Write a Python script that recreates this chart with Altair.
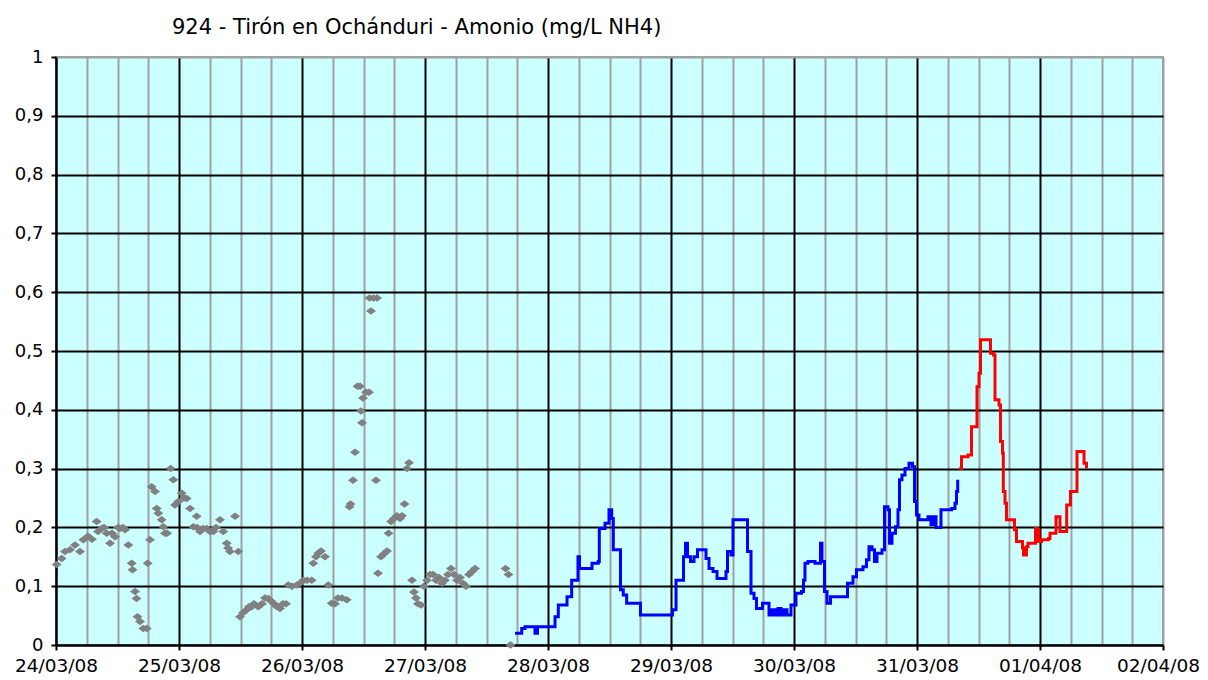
import altair as alt
import pandas as pd

# ---- data (hours since 24/03/08 00:00, values in mg/L NH4) ----
day_labels = ["24/03/08", "25/03/08", "26/03/08", "27/03/08", "28/03/08",
              "29/03/08", "30/03/08", "31/03/08", "01/04/08", "02/04/08"]
y_ticks = [0, 0.1, 0.2, 0.3, 0.4, 0.5, 0.6, 0.7, 0.8, 0.9, 1.0]
grid_hours = list(range(0, 217, 6))

gray_hours = [0.14, 1.11, 1.76, 2.73, 3.71, 4.68, 5.33, 6.24, 7.02, 7.94, 8.20, 8.92, 9.37,
              9.89, 10.54, 10.93, 11.51, 12.10, 12.49, 13.07, 13.46, 14.11, 14.77, 14.93,
              15.41, 15.71, 15.90, 16.39, 17.03, 17.70, 17.89, 18.34, 18.67, 19.32, 19.65,
              19.96, 20.62, 20.94, 21.27, 21.66, 22.38, 22.89, 23.22, 23.86, 24.53, 24.98,
              25.50, 26.15, 26.79, 27.45, 27.51, 28.10, 28.68, 29.40, 30.05, 30.69, 31.22,
              32.00, 32.64, 33.31, 33.56, 33.95, 34.93, 35.57, 35.90, 36.49, 37.21, 37.66,
              38.19, 38.63, 39.47, 40.20, 40.78, 41.42, 41.95, 42.54, 43.12, 43.71, 44.29,
              44.88, 45.33, 46.05, 46.97, 47.61, 48.25, 48.98, 49.89, 50.20, 50.73, 51.18,
              51.71, 52.49, 53.13, 53.79, 54.44, 55.02, 55.80, 56.72, 57.27, 57.46, 57.95,
              58.34, 58.83, 59.32, 59.51, 59.71, 59.90, 60.49, 61.07, 61.17, 61.46, 61.95,
              62.63, 62.44, 62.83, 63.41, 64.00, 64.59, 64.88, 65.37, 65.95, 66.53, 67.12,
              67.51, 68.00, 68.49, 68.88, 69.46, 69.85, 70.24, 70.63, 71.22, 71.80, 72.39,
              72.98, 73.56, 74.15, 74.73, 75.32, 75.90, 76.49, 77.07, 77.66, 78.24, 78.83,
              79.41, 80.00, 80.59, 81.17, 81.76, 87.71, 88.29, 88.68]
gray_values = [0.137, 0.147, 0.159, 0.162, 0.170, 0.159, 0.179, 0.185, 0.180, 0.210, 0.193, 0.198, 0.200,
               0.190, 0.173, 0.190, 0.184, 0.200, 0.198, 0.200, 0.196, 0.170, 0.139, 0.128,
               0.091, 0.079, 0.048, 0.040, 0.028, 0.028, 0.139, 0.179, 0.269, 0.261, 0.232,
               0.224, 0.213, 0.201, 0.190, 0.190, 0.300, 0.281, 0.238, 0.244, 0.258, 0.250,
               0.249, 0.232, 0.201, 0.219, 0.200, 0.193, 0.198, 0.198, 0.193, 0.193, 0.200,
               0.213, 0.193, 0.173, 0.165, 0.159, 0.219, 0.159, 0.048, 0.055, 0.060, 0.065,
               0.065, 0.070, 0.065, 0.070, 0.080, 0.079, 0.075, 0.070, 0.065, 0.062, 0.070,
               0.070, 0.102, 0.100, 0.102, 0.105, 0.110, 0.110, 0.110, 0.139, 0.150, 0.156,
               0.160, 0.150, 0.102, 0.071, 0.070, 0.080, 0.080, 0.077, 0.235, 0.240, 0.280,
               0.328, 0.440, 0.440, 0.398, 0.378, 0.420, 0.430, 0.430, 0.590, 0.568, 0.590,
               0.590, 0.280, 0.122, 0.150, 0.155, 0.160, 0.190, 0.210, 0.215, 0.220, 0.215,
               0.220, 0.240, 0.300, 0.310, 0.110, 0.090, 0.080, 0.070, 0.068, 0.100, 0.110,
               0.120, 0.120, 0.110, 0.115, 0.105, 0.110, 0.120, 0.130, 0.120, 0.110, 0.115,
               0.105, 0.100, 0.120, 0.125, 0.130, 0.130, 0.120, 0.000]

blue_hours = [89.56, 90.87, 91.51, 93.46, 93.95, 97.37, 98.01, 99.71, 100.62, 101.85, 102.15,
              104.59, 105.81, 106.01, 107.12, 107.90, 108.43, 108.74, 110.15, 110.69, 111.35,
              114.05, 120.29, 120.98, 122.44, 122.83, 123.22, 123.81, 124.49, 125.17, 126.83,
              127.42, 128.20, 128.98, 130.73, 131.02, 131.71, 132.10, 134.93, 135.61, 136.20,
              136.68, 137.85, 139.12, 139.71, 140.29, 140.88, 141.46, 142.05, 142.63, 143.41,
              144.39, 145.46, 145.85, 146.14, 146.73, 148.10, 149.17, 149.46, 149.95, 150.44,
              151.12, 154.44, 155.51, 156.19, 157.46, 158.14, 158.63, 159.22, 159.70, 160.19,
              161.17, 161.66, 162.34, 162.63, 163.12, 163.80, 164.29, 164.58, 165.07, 165.66,
              166.44, 167.12, 167.51, 167.90, 168.39, 170.15, 170.73, 171.12, 171.71, 172.68,
              174.77, 175.41, 175.71, 175.94]
blue_values = [0.020, 0.028, 0.031, 0.020, 0.031, 0.048, 0.068, 0.082, 0.110, 0.150, 0.130,
               0.139, 0.142, 0.198, 0.207, 0.230, 0.215, 0.162, 0.094, 0.085, 0.071,
               0.051, 0.060, 0.110, 0.150, 0.173, 0.150, 0.142, 0.150, 0.162, 0.147,
               0.130, 0.125, 0.113, 0.125, 0.159, 0.153, 0.213, 0.159, 0.088, 0.079,
               0.062, 0.071, 0.051, 0.060, 0.051, 0.062, 0.051, 0.060, 0.051, 0.068,
               0.088, 0.091, 0.110, 0.139, 0.142, 0.139, 0.173, 0.142, 0.091, 0.071,
               0.082, 0.105, 0.116, 0.128, 0.133, 0.145, 0.167, 0.162, 0.142, 0.156,
               0.162, 0.235, 0.230, 0.173, 0.190, 0.201, 0.230, 0.281, 0.289, 0.300,
               0.309, 0.303, 0.244, 0.221, 0.213, 0.218, 0.205, 0.218, 0.200, 0.230,
               0.232, 0.241, 0.261, 0.281]

red_hours = [176.25, 176.68, 177.95, 178.63, 179.71, 180.10, 180.39, 182.34, 182.93, 183.22,
             184.00, 184.30, 184.69, 184.84, 185.17, 185.46, 187.02, 187.41, 188.58, 188.78,
             189.37, 189.66, 191.12, 191.41, 191.60, 191.80, 192.29, 193.66, 193.95, 195.12,
             195.90, 197.21, 197.95, 199.22, 200.59, 201.07]
red_values = [0.300, 0.320, 0.323, 0.371, 0.439, 0.462, 0.519, 0.496, 0.493, 0.417,
              0.408, 0.346, 0.326, 0.261, 0.241, 0.213, 0.196, 0.176, 0.165, 0.153,
              0.167, 0.173, 0.198, 0.176, 0.195, 0.176, 0.179, 0.181, 0.190, 0.218,
              0.193, 0.238, 0.261, 0.329, 0.309, 0.300]

title_text = "924 - Tirón en Ochánduri - Amonio (mg/L NH4)"

gray_df = pd.DataFrame({"h": gray_hours, "v": gray_values})
blue_df = pd.DataFrame({"h": blue_hours, "v": blue_values})
red_df = pd.DataFrame({"h": red_hours, "v": red_values})

FONT = "DejaVu Sans"
label_js = "[" + ",".join("'%s'" % d for d in day_labels) + "]"

xscale = alt.Scale(domain=[0, 216], nice=False, zero=False)
yscale = alt.Scale(domain=[0, 1], nice=False, zero=True)

x_axis = alt.Axis(
    values=grid_hours,
    tickCount=200,
    grid=True,
    gridColor={"condition": {"test": "datum.value % 24 == 0 && datum.value < 216", "value": "#000000"},
               "value": "#a0a0a0"},
    gridWidth=2,
    tickColor={"condition": {"test": "datum.value % 24 == 0", "value": "#000000"},
               "value": "transparent"},
    tickSize=5,
    tickWidth=2,
    domainColor="#000000",
    domainWidth=2,
    labelExpr="datum.value % 24 == 0 ? " + label_js + "[datum.value / 24] : ''",
    labelOffset={"condition": {"test": "datum.value == 216", "value": -5}, "value": 0},
    labelFlush=False,
    labelOverlap=False,
    labelFont=FONT,
    labelFontSize=18.5,
    labelColor="#000000",
    labelPadding=6,
    title=None,
)

y_axis = alt.Axis(
    values=y_ticks,
    tickCount=200,
    grid=True,
    gridColor={"condition": {"test": "datum.value > 0.95", "value": "#a0a0a0"},
               "value": "#000000"},
    gridWidth=2,
    tickColor="#000000",
    tickSize=5,
    tickWidth=2,
    domainColor="#000000",
    domainWidth=2,
    labelExpr="replace(format(datum.value, '.1~f'), '.', ',')",
    labelFont=FONT,
    labelFontSize=18,
    labelColor="#000000",
    labelPadding=8,
    title=None,
)

diamond = "M-1,0L0,-0.75L1,0L0,0.75Z"

points = alt.Chart(gray_df).mark_point(
    shape=diamond, filled=True, color="#808080", size=100, opacity=1
).encode(
    x=alt.X("h:Q", scale=xscale, axis=x_axis),
    y=alt.Y("v:Q", scale=yscale, axis=y_axis),
)

blue = alt.Chart(blue_df).mark_line(
    color="#0000ff", strokeWidth=3, interpolate="step-after"
).encode(x=alt.X("h:Q", scale=xscale), y=alt.Y("v:Q", scale=yscale))

red = alt.Chart(red_df).mark_line(
    color="#ff0000", strokeWidth=3, interpolate="step-after"
).encode(x=alt.X("h:Q", scale=xscale), y=alt.Y("v:Q", scale=yscale))

chart = alt.layer(points, blue, red).properties(
    width=1107,
    height=588,
    padding={"left": 48, "top": 49, "right": 37, "bottom": 34},
    autosize=alt.AutoSizeParams(type="none"),
    title=alt.TitleParams(
        text=title_text,
        anchor="start",
        frame="group",
        dx=116,
        offset=10,
        font=FONT,
        fontSize=21,
        fontWeight="normal",
        color="#000000",
    ),
).configure_view(
    fill="#ccffff",
    stroke="#a0a0a0",
    strokeWidth=2,
)

chart.save("out.html", embed_options={"renderer": "svg", "actions": False})
